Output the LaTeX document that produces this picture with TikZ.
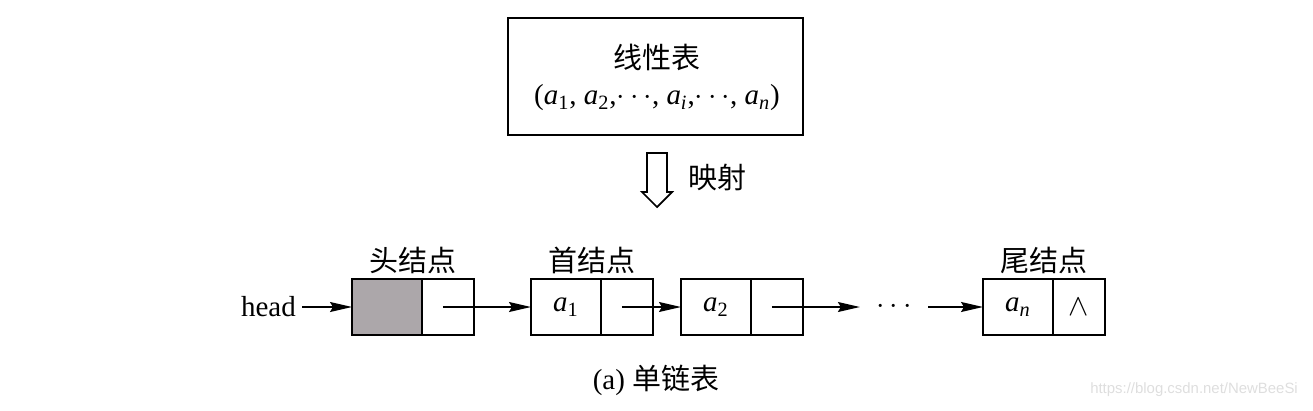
\documentclass[tikz,border=0pt]{standalone}
\usepackage{fontspec}
\usepackage{xcolor}
\setmainfont{Liberation Serif}
\newfontfamily\cjk{Noto Sans CJK SC}
\newfontfamily\wmfont{Liberation Sans}
\usetikzlibrary{positioning,calc,arrows.meta}
\definecolor{headfill}{RGB}{172,167,170}
\newcommand{\ael}[1]{\textit{a}\textsubscript{#1}}

\begin{document}
\begin{tikzpicture}[x=0.02cm,y=-0.02cm,
  every node/.style={font=\fontsize{16.5}{20}\selectfont},
  datbox/.style={draw,line width=1pt,outer sep=0pt,inner sep=0pt,minimum width=1.4cm,minimum height=1.12cm},
  ptrbox/.style={draw,line width=1pt,outer sep=0pt,inner sep=0pt,minimum width=1.04cm,minimum height=1.12cm},
  link/.style={line width=0.8pt,-{Stealth[length=0.44cm,width=0.2cm,inset=0.06cm]}},
  lbl/.style={font=\cjk\fontsize{16.5}{20}\selectfont}]
\useasboundingbox (0,0) rectangle (1313,410);
% linear list box
\node[draw,line width=1pt,minimum width=5.9cm,minimum height=2.34cm] (table) at (655.5,76.5) {};
\node[lbl] (title) at (657,57) {线性表};
\node (formula) at (657,98) {(\ael{1}, \ael{2},$\cdots$, \ael{\textit{i}},$\cdots$, \ael{\textit{n}})};
% mapping arrow
\draw[line width=1pt] (647,153) -- (667,153) -- (667,192) -- (672,192) -- (657,207) -- (642,192) -- (647,192) -- cycle;
\node[lbl,anchor=west] (maplbl) at (682,178) {映射};
% list nodes
\node[datbox,fill=headfill,anchor=west] (n0d) at (352,307) {};
\node[ptrbox,right=0pt of n0d] (n0p) {};
\node[datbox,right=1.14cm of n0p] (n1d) {\ael{1}};
\node[ptrbox,right=0pt of n1d] (n1p) {};
\node[datbox,right=0.56cm of n1p] (n2d) {\ael{2}};
\node[ptrbox,right=0pt of n2d] (n2p) {};
\node[inner xsep=0.32cm,right=1.14cm of n2p] (dots) {$\cdots$};
\node[datbox,right=1.1cm of dots] (nnd) {\ael{\textit{n}}};
\node[ptrbox,right=0pt of nnd] (nnp) {$\wedge$};
\node[left=1cm of n0d] (head) {head};
% labels
\node[lbl] (lbl0) at ($(n0d.west)!0.5!(n0p.east)+(0,-47)$) {头结点};
\node[lbl] (lbl1) at ($(n1d.west)!0.5!(n1p.east)+(0,-47)$) {首结点};
\node[lbl] (lbln) at ($(nnd.west)!0.5!(nnp.east)+(0,-47)$) {尾结点};
% links
\draw[link] (head) -- (n0d.west);
\draw[link] ([xshift=-0.1cm]n0p.center) -- (n1d.west);
\draw[link] ([xshift=-0.1cm]n1p.center) -- (n2d.west);
\draw[link] ([xshift=-0.1cm]n2p.center) -- (dots);
\draw[link] (dots) -- (nnd.west);
% caption
\node (caption) at (656,380) {(a) {\cjk 单链表}};
\node[anchor=east,font=\wmfont\fontsize{8.5}{10}\selectfont,text=black!13] (mark) at (1304,390) {https://blog.csdn.net/NewBeeSi};
\end{tikzpicture}
\end{document}
